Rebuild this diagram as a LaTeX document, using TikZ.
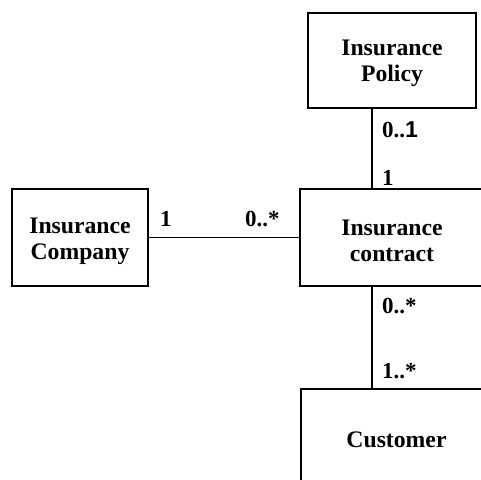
\documentclass[tikz,border=0pt]{standalone}
\usepackage{fontspec}
\setmainfont{Liberation Serif}
\newfontfamily\digitsans{Liberation Sans}
\begin{document}
\begin{tikzpicture}[x=1pt,y=-1pt,
  classbox/.style={draw=black,line width=1.3pt,inner sep=0pt},
  classname/.style={align=center,inner sep=0pt,
    font=\fontsize{23.7}{26}\selectfont\bfseries},
  assoc/.style={draw=black,line width=1.3pt},
  mult/.style={anchor=base west,inner sep=0pt,font=\fontsize{23}{24}\selectfont\bfseries}]
  \clip (0,0) rectangle (481,479);
  % class boxes
  \node[classbox,minimum width=168pt,minimum height=95pt] (policy) at (392,60.5) {};
  \node[classbox,minimum width=184pt,minimum height=97pt] (contract) at (392,237.5) {};
  \node[classbox,minimum width=136pt,minimum height=97pt] (company) at (80,237.5) {};
  \node[classbox,minimum width=191pt,minimum height=100pt] (customer) at (396.5,439) {};
  % class names
  \node[classname] (policyname) at ([yshift=-3pt]policy.center) {Insurance\\Policy};
  \node[classname] (contractname) at ([yshift=-3.5pt]contract.center) {Insurance\\contract};
  \node[classname] (companyname) at ([yshift=-3.5pt]company.center) {Insurance\\Company};
  \node[classname] (customername) at ([yshift=-1pt]customer.center) {Customer};
  % associations
  \coordinate (axis) at (372,0);
  \draw[assoc] (policy.south -| axis) -- (contract.north -| axis);
  \draw[assoc] (contract.south -| axis) -- (customer.north -| axis);
  \draw[assoc] (company.east) -- (contract.west);
  % multiplicities
  \node[mult] (m1) at (382,137) {0..{\digitsans 1}};
  \node[mult] (m2) at (382,185) {1};
  \node[mult] (m3) at (160,226) {1};
  \node[mult] (m4) at (245,226) {0..*};
  \node[mult] (m5) at (382,313) {0..*};
  \node[mult] (m6) at (382,378) {1..*};
\end{tikzpicture}
\end{document}
